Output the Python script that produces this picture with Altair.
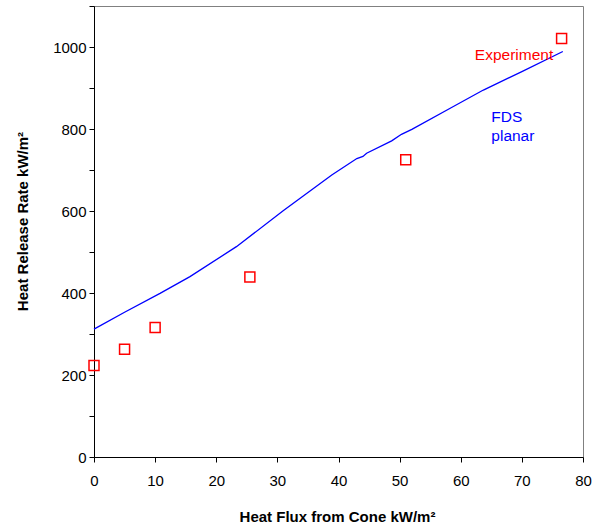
import altair as alt
import pandas as pd

# Experiment (red squares)
exp_flux = [0, 5, 10, 25.5, 51, 76.5]
exp_hrr = [223, 263, 316, 439, 725, 1021]

# FDS planar (blue line)
fds_flux = [0, 5, 10.8, 15.7, 23.3, 31, 38.9, 43, 44, 44.6, 48.7, 50.3, 52, 58.2, 63.7, 70, 76.7]
fds_hrr = [312, 353, 399, 440, 513, 601, 688, 728, 733, 741, 771, 787, 799, 850, 895, 940, 989]

x_ticks = [0, 10, 20, 30, 40, 50, 60, 70, 80]
y_ticks = [0, 100, 200, 300, 400, 500, 600, 700, 800, 900, 1000, 1100]

FONT = "Liberation Sans"

exp_df = pd.DataFrame({"flux": exp_flux, "hrr": exp_hrr})
fds_df = pd.DataFrame({"flux": fds_flux, "hrr": fds_hrr})

x_enc = alt.X(
    "flux:Q",
    scale=alt.Scale(domain=[0, 80], nice=False, zero=False),
    axis=alt.Axis(
        title="Heat Flux from Cone kW/m²",
        values=x_ticks,
        grid=False,
        tickSize=5,
        labelPadding=11,
        labelFontSize=15,
        labelFont=FONT,
        labelColor="black",
        titleFont=FONT,
        titleFontSize=15,
        titleFontWeight="bold",
        titleColor="black",
        titleX=243,
        titleY=64,
        titleBaseline="alphabetic",
        domainColor="black",
        tickColor="black",
        labelFlush=False,
    ),
)
y_enc = alt.Y(
    "hrr:Q",
    scale=alt.Scale(domain=[0, 1100], nice=False, zero=True),
    axis=alt.Axis(
        title="Heat Release Rate kW/m²",
        values=y_ticks,
        labelExpr="datum.value % 200 == 0 ? datum.label : ''",
        grid=False,
        tickSize=5,
        labelPadding=3,
        labelFontSize=15,
        labelFont=FONT,
        labelColor="black",
        titleFont=FONT,
        titleFontSize=15,
        titleFontWeight="bold",
        titleColor="black",
        titleX=-72,
        titleY=215,
        titleAngle=-90,
        titleAlign="center",
        titleBaseline="middle",
        domainColor="black",
        tickColor="black",
        format="d",
        labelFlush=False,
    ),
)

line = alt.Chart(fds_df).mark_line(color="#0000FF", strokeWidth=1.3).encode(x=x_enc, y=y_enc)
pts = alt.Chart(exp_df).mark_point(
    shape="square", filled=False, size=100, color="#FF0000", strokeWidth=1.5, opacity=1
).encode(x="flux:Q", y="hrr:Q")

one = alt.Data(values=[{"a": 0}])
t_exp = alt.Chart(one).mark_text(
    text="Experiment", color="#FF0000", font=FONT, fontSize=15.5, align="left", baseline="middle"
).encode(x=alt.datum(62.3), y=alt.datum(980))
t_fds = alt.Chart(one).mark_text(
    text="FDS", color="#0000FF", font=FONT, fontSize=15.5, align="left", baseline="middle"
).encode(x=alt.datum(65), y=alt.datum(829))
t_pl = alt.Chart(one).mark_text(
    text="planar", color="#0000FF", font=FONT, fontSize=15.5, align="left", baseline="middle"
).encode(x=alt.datum(65), y=alt.datum(784))

chart = (
    alt.layer(line, pts, t_exp, t_fds, t_pl)
    .properties(
        width=489,
        height=451,
        autosize="none",
        padding={"left": 94, "top": 6, "right": 31, "bottom": 72},
        background="white",
    )
    .configure_view(stroke="#808080", strokeWidth=1)
)

chart.save("out.html", embed_options={"renderer": "svg", "actions": False})
